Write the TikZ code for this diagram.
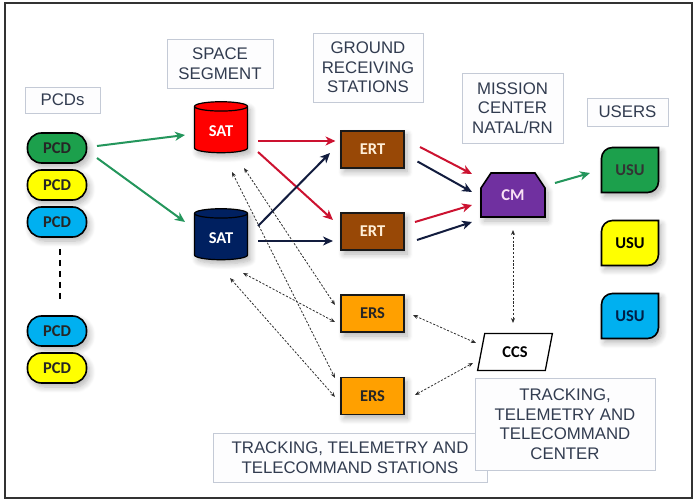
\documentclass[tikz,border=0pt]{standalone}
\usepackage{fontspec}
\setmainfont{Liberation Sans}
\newfontfamily\calfont{Carlito}
\usetikzlibrary{arrows.meta,shapes.geometric,shapes.misc,shadows.blur,calc}

\definecolor{lbltext}{RGB}{50,60,80}
\definecolor{lblborder}{RGB}{196,202,214}
\definecolor{lblfill}{RGB}{253,253,254}
\definecolor{pgreen}{RGB}{28,160,76}
\definecolor{pyellow}{RGB}{255,255,0}
\definecolor{pblue}{RGB}{0,176,240}
\definecolor{satred}{RGB}{255,0,0}
\definecolor{satnavy}{RGB}{0,32,96}
\definecolor{ertbrown}{RGB}{152,72,6}
\definecolor{ersorange}{RGB}{255,160,0}
\definecolor{cmpurple}{RGB}{112,48,160}
\definecolor{agreen}{RGB}{36,150,92}
\definecolor{ared}{RGB}{204,18,48}
\definecolor{anavy}{RGB}{18,28,62}
\definecolor{dashcol}{RGB}{45,45,45}
\definecolor{framecol}{RGB}{50,50,50}
\definecolor{erttext}{RGB}{255,238,215}

\begin{document}
\begin{tikzpicture}[x=1pt,y=-1pt,
  lbl/.style={draw=lblborder, fill=lblfill, line width=0.8pt, text=lbltext,
    font=\fontsize{16.8}{19.5}\selectfont, align=center, inner sep=0pt},
  shad/.style={blur shadow={shadow xshift=3pt, shadow yshift=-4pt,
    shadow blur radius=6pt, shadow blur steps=8, shadow opacity=30}},
  nfont/.style={font=\calfont\bfseries\fontsize{16.5}{16.5}\selectfont},
  pcd/.style={rectangle, rounded corners=14pt, draw=black, line width=1.6pt,
    minimum width=59pt, minimum height=30pt, nfont, text=black!85, shad},
  sat/.style={cylinder, shape border rotate=90, aspect=0.3, draw=black,
    line width=1.2pt, minimum width=53pt, minimum height=51pt, nfont,
    text=white, shad},
  stbox/.style={rectangle, draw=black!90, line width=1.6pt, minimum width=63pt,
    minimum height=37pt, nfont, shad},
  shapefill/.style={draw=black, line width=1.6pt, shad},
  ccsbox/.style={trapezium, trapezium left angle=78, trapezium right angle=102,
    trapezium stretches=true, draw=black, line width=1.3pt, fill=white,
    minimum width=75pt, minimum height=37pt, nfont, text=black},
  arr/.style={line width=2pt, -{Stealth[length=10pt,width=9pt,inset=3pt]}},
  dsh/.style={dashcol, line width=0.8pt, dash pattern=on 2.2pt off 1.6pt,
    {Stealth[length=5pt,width=4pt]}-{Stealth[length=5pt,width=4pt]}}
]
\useasboundingbox (0,0) rectangle (699,502);
\draw[framecol, line width=1.6pt] (5,3) rectangle (692,498);

% labels
\node[lbl, minimum width=75pt, minimum height=26pt] (lpcd) at (62.5,100) {PCDs};
\node[lbl, minimum width=106pt, minimum height=49pt] (lspace) at (220,63.5) {SPACE\\SEGMENT};
\node[lbl, minimum width=110pt, minimum height=69pt] (lground) at (368,67.5) {GROUND\\RECEIVING\\STATIONS};
\node[lbl, minimum width=101pt, minimum height=70pt] (lmission) at (512.5,108) {MISSION\\CENTER\\NATAL/RN};
\node[lbl, minimum width=81pt, minimum height=28pt] (lusers) at (627.5,112) {USERS};
\node[lbl, minimum width=274pt, minimum height=49pt] (lstations) at (350,457.5) {TRACKING, TELEMETRY AND\\TELECOMMAND STATIONS};
\node[lbl, minimum width=180pt, minimum height=92pt] (lcenter) at (565,424) {TRACKING,\\TELEMETRY AND\\TELECOMMAND\\CENTER};

% PCDs
\node[pcd, fill=pgreen] (pcd1) at (57,148) {PCD};
\node[pcd, fill=pyellow] (pcd2) at (57,185) {PCD};
\node[pcd, fill=pblue] (pcd3) at (57,222) {PCD};
\node[pcd, fill=pblue] (pcd4) at (57,331) {PCD};
\node[pcd, fill=pyellow] (pcd5) at (57,368) {PCD};
\draw[black, line width=1.5pt, dash pattern=on 6pt off 5pt]
  ($(pcd3.south)+(3,11)$) -- ($(pcd4.north)+(3,-14)$);

% satellites
\node[sat, fill=satred] (sat1) at (221,131) {SAT};
\node[sat, fill=satnavy] (sat2) at (221,238) {SAT};

% stations
\node[stbox, fill=ertbrown, text=erttext] (ert1) at (372.5,149.5) {ERT};
\node[stbox, fill=ertbrown, text=erttext] (ert2) at (372.5,231.5) {ERT};
\node[stbox, fill=ersorange, text=black!85] (ers1) at (372.5,313.5) {ERS};
\node[stbox, fill=ersorange, text=black!85] (ers2) at (372.5,396) {ERS};

% CM
\coordinate (cmc) at (513,195);
\begin{scope}[shift={(cmc)}]
  \path[shapefill, fill=cmpurple] (-32,22) -- (-32,-7) -- (-22,-22) -- (22,-22)
    -- (32,-7) -- (32,22) -- cycle;
\end{scope}
\node[nfont, text={rgb,255:red,250;green,225;blue,245}] (cm) at (cmc) {CM};

% CCS
\node[ccsbox] (ccs) at (515,352) {CCS};

% users
\foreach \nm/\cy/\col/\tcol in {usu1/170/pgreen/black!80, usu2/243/pyellow/black, usu3/316/pblue/{rgb,255:red,0;green,30;blue,70}}{
  \coordinate (\nm c) at (630,\cy);
  \begin{scope}[shift={(\nm c)}]
    \path[shapefill, fill=\col] (-28.5,22.5) -- (-28.5,-11.5)
      .. controls (-28.5,-17.6) and (-23.6,-22.5) .. (-17.5,-22.5)
      -- (28.5,-22.5) -- (28.5,11.5)
      .. controls (28.5,17.6) and (23.6,22.5) .. (17.5,22.5) -- cycle;
  \end{scope}
  \node[nfont, text=\tcol] (\nm) at (\nm c) {USU};
}

% green arrows
\draw[arr, agreen] ($(pcd1)+(40,-2)$) -- ($(sat1)+(-36,4)$);
\draw[arr, agreen] ($(pcd1)+(40,10)$) -- ($(sat2)+(-36,-16)$);
% sat -> ert
\draw[arr, ared] ($(sat1)+(37,10)$) -- ($(ert1)+(-37,-8.5)$);
\draw[arr, ared] ($(sat1)+(37,21)$) -- ($(ert2)+(-39.5,-11.5)$);
\draw[arr, anavy] ($(sat2)+(37,-12)$) -- ($(ert1)+(-42.5,3.5)$);
\draw[arr, anavy] ($(sat2)+(37,3)$) -- ($(ert2)+(-39.5,9.5)$);
% ert -> cm
\draw[arr, ared] ($(ert1)+(47.5,-2.5)$) -- ($(cm)+(-41,-21)$);
\draw[arr, anavy] ($(ert1)+(45,12)$) -- ($(cm)+(-41,-3)$);
\draw[arr, ared] ($(ert2)+(42.5,-9.5)$) -- ($(cm)+(-41,10)$);
\draw[arr, anavy] ($(ert2)+(44.5,8.5)$) -- ($(cm)+(-41,27)$);
% cm -> usu
\draw[arr, agreen] ($(cm)+(42,-12)$) -- ($(usu1)+(-40,3)$);

% dashed links
\draw[dsh] ($(sat1)+(11,41)$) -- ($(ers2)+(-37.5,-18)$);
\draw[dsh] ($(sat1)+(23,37)$) -- ($(ers1)+(-37.5,-8.5)$);
\draw[dsh] ($(sat2)+(22,35)$) -- ($(ers1)+(-37.5,8.5)$);
\draw[dsh] ($(sat2)+(9,40)$) -- ($(ers2)+(-37.5,1)$);
\draw[dsh] ($(ers1)+(40.5,1.5)$) -- ($(ccs)+(-39,-9)$);
\draw[dsh] ($(ers2)+(42.5,-1)$) -- ($(ccs)+(-42,11)$);
\draw[dsh] ($(cm)+(0,35)$) -- ($(ccs)+(-2,-29)$);
\end{tikzpicture}
\end{document}
